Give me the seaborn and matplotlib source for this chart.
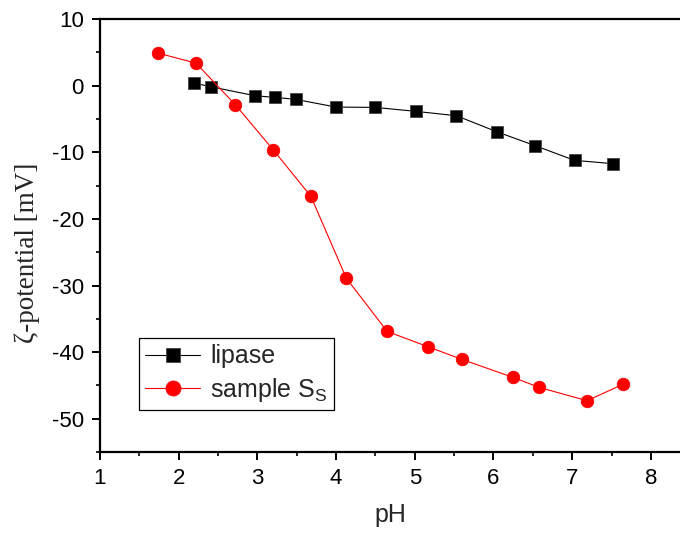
import matplotlib
matplotlib.use('Agg')
import matplotlib.pyplot as plt
import seaborn as sns
import pandas as pd
from matplotlib.ticker import MultipleLocator

# lipase series (squares)
lipase_ph = [2.20, 2.41, 2.97, 3.23, 3.49, 4.00, 4.50, 5.02, 5.53, 6.04, 6.53, 7.03, 7.52]
lipase_zeta = [0.4, -0.15, -1.5, -1.75, -2.05, -3.2, -3.25, -3.85, -4.5, -6.9, -9.0, -11.2, -11.7]

# sample S_S series (circles)
sample_ph = [1.74, 2.22, 2.72, 3.20, 3.68, 4.13, 4.65, 5.17, 5.60, 6.25, 6.58, 7.19, 7.65]
sample_zeta = [4.9, 3.4, -2.85, -9.6, -16.6, -28.9, -36.9, -39.2, -41.1, -43.8, -45.3, -47.3, -44.8]

sns.set_style('ticks')
plt.rcParams['font.family'] = ['Liberation Sans', 'DejaVu Sans']
plt.rcParams['axes.unicode_minus'] = False

fig = plt.figure(figsize=(6.8, 5.33), dpi=100, facecolor='white')
ax = fig.add_axes([0.147, 0.152, 0.853, 0.812])

lipase_df = pd.DataFrame({'pH': lipase_ph, 'zeta': lipase_zeta})
sample_df = pd.DataFrame({'pH': sample_ph, 'zeta': sample_zeta})

sns.lineplot(data=lipase_df, x='pH', y='zeta', sort=False, color='black',
             marker='s', markersize=8, markeredgecolor='#444444', markeredgewidth=0.6,
             linewidth=0.8, label='lipase', ax=ax)
sns.lineplot(data=sample_df, x='pH', y='zeta', sort=False, color='#ff0000',
             marker='o', markersize=9, markeredgecolor='#ff0000', markeredgewidth=0.6,
             linewidth=0.8, label='sample S$_\\mathregular{S}$', ax=ax)

ax.set_xlim(1, 8.37)
ax.set_ylim(-55, 10)
ax.xaxis.set_major_locator(MultipleLocator(1))
ax.xaxis.set_minor_locator(MultipleLocator(0.5))
ax.yaxis.set_major_locator(MultipleLocator(10))
ax.yaxis.set_minor_locator(MultipleLocator(5))

ax.spines['right'].set_visible(False)
for side in ['left', 'bottom', 'top']:
    ax.spines[side].set_linewidth(1.6)
    ax.spines[side].set_color('black')

ax.tick_params(axis='both', which='major', direction='out', length=5.5, width=1.4,
               labelsize=16, colors='black', pad=6)
ax.tick_params(axis='both', which='minor', direction='out', length=3, width=1.4)
ax.tick_params(top=False, right=False, which='both')

ax.set_xlabel('pH', fontsize=18, labelpad=10)
ax.set_ylabel('ζ-potential [mV]', fontsize=19.5, family=['Liberation Serif', 'DejaVu Serif'])
ax.yaxis.set_label_coords(-0.104, 0.46)

leg = ax.legend(loc='lower left', bbox_to_anchor=(0.067, 0.097), fontsize=18,
                frameon=True, fancybox=False, edgecolor='black', framealpha=1,
                handlelength=2.2, borderpad=0.25, labelspacing=0.3, handletextpad=0.4,
                borderaxespad=0, markerscale=1.2)
leg.get_frame().set_linewidth(0.9)

plt.savefig('out.png', dpi=100, facecolor='white')
plt.close()
